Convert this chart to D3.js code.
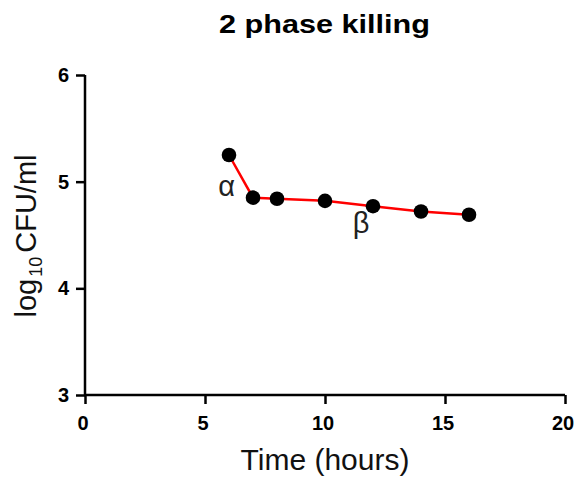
<!DOCTYPE html>
<html><head><meta charset="utf-8">
<script src="https://cdn.jsdelivr.net/npm/d3@7"></script>
<style>body{margin:0;background:#fff;}svg{display:block;font-family:"Liberation Sans",Arial,sans-serif;}</style>
</head><body>
<script>
const times = [6, 7, 8, 10, 12, 14, 16];
const logCFU = [5.25, 4.85, 4.84, 4.82, 4.77, 4.72, 4.69];
const xTicks = [0, 5, 10, 15, 20];
const yTicks = [3, 4, 5, 6];
const phaseLabels = [{text: "α", t: 5.9, v: 4.87}, {text: "β", t: 11.5, v: 4.52}];

const W = 581, H = 479;
const svg = d3.select("body").append("svg").attr("width", W).attr("height", H);
const x = d3.scaleLinear().domain([0, 20]).range([85, 565]);
const y = d3.scaleLinear().domain([3, 6]).range([395, 75]);

const xAxis = svg.append("g").attr("transform", "translate(0,395)")
  .call(d3.axisBottom(x).tickValues(xTicks).tickSize(9).tickPadding(12).tickFormat(d3.format("d")));
const yAxis = svg.append("g").attr("transform", "translate(85,0)")
  .call(d3.axisLeft(y).tickValues(yTicks).tickSize(9).tickPadding(7).tickFormat(d3.format("d")));
[xAxis, yAxis].forEach(a => {
  a.select(".domain").attr("stroke", "#000").attr("stroke-width", 2.5);
  a.selectAll(".tick line").attr("stroke", "#000").attr("stroke-width", 2.5);
  a.selectAll(".tick text").attr("fill", "#000").style("font-size", "20px").style("font-weight", "bold");
});
xAxis.selectAll(".tick text").attr("x", -2.5);
xAxis.select(".domain").attr("d", "M" + (x(0) - 1) + ",0H" + x(20));
yAxis.select(".domain").attr("d", "M0," + y(3) + "V" + y(6));

const line = d3.line().x((d, i) => x(times[i])).y(d => y(d));
svg.append("path").datum(logCFU).attr("d", line).attr("fill", "none")
  .attr("stroke", "#ff0000").attr("stroke-width", 2.5);
svg.selectAll("circle.pt").data(logCFU).enter().append("circle").attr("class", "pt")
  .attr("cx", (d, i) => x(times[i])).attr("cy", d => y(d)).attr("r", 7.3).attr("fill", "#000");

svg.selectAll("text.phase").data(phaseLabels).enter().append("text").attr("class", "phase")
  .attr("x", d => x(d.t)).attr("y", d => y(d.v)).attr("text-anchor", "middle")
  .style("font-size", "29px").attr("fill", "#222").text(d => d.text);

svg.append("text").attr("x", 219).attr("y", 33)
  .style("font-size", "25px").style("font-weight", "bold")
  .attr("textLength", 211).attr("lengthAdjust", "spacingAndGlyphs")
  .text("2 phase killing");

svg.append("text").attr("x", 325).attr("y", 470).attr("text-anchor", "middle")
  .style("font-size", "30px").attr("fill", "#111").text("Time (hours)");

const yl = svg.append("text").attr("transform", "translate(36,236) rotate(-90)")
  .attr("text-anchor", "middle").style("font-size", "29px").attr("fill", "#111");
yl.append("tspan").text("log");
yl.append("tspan").attr("dy", 6).attr("dx", 2).style("font-size", "18px").text("10");
yl.append("tspan").attr("dy", -6).attr("dx", 4).text("CFU/ml");
</script>
</body></html>
